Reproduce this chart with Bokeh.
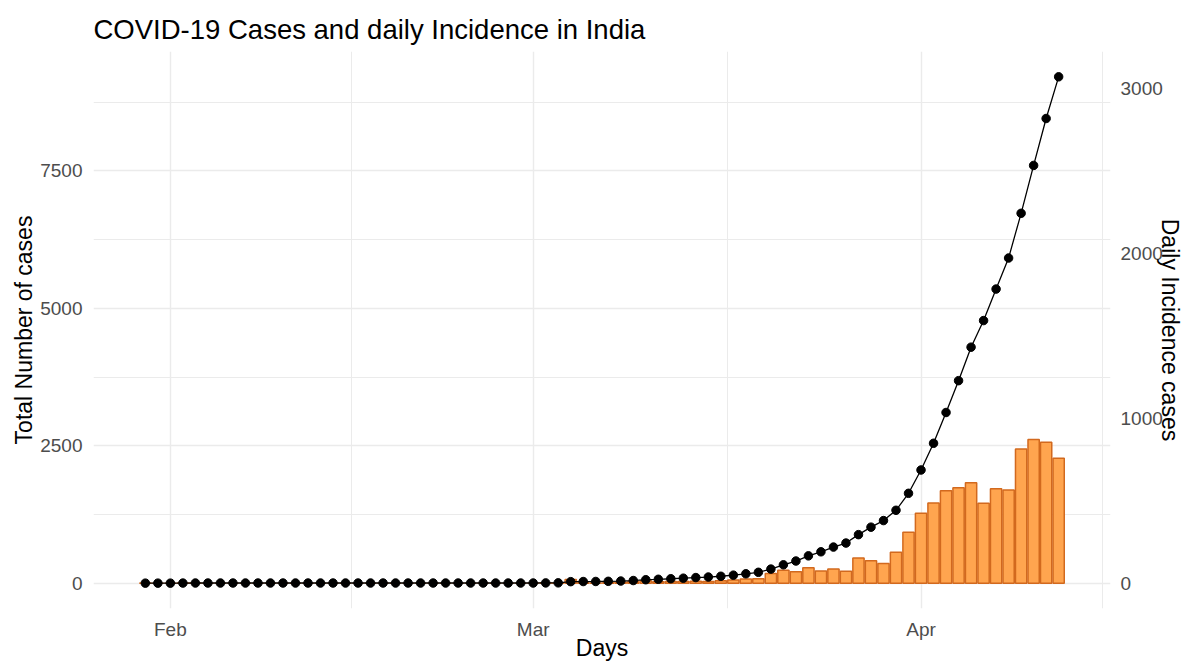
import pandas as pd
from bokeh.plotting import figure
from bokeh.models import Range1d, LinearAxis, FixedTicker, DatetimeTickFormatter
from bokeh.embed import file_html
from bokeh.resources import INLINE

# ---------------- data ----------------
dates = pd.date_range("2020-01-30", "2020-04-12", freq="D")

total_cases = [
    1, 1, 1, 2, 3,
    3, 3, 3, 3, 3, 3, 3, 3, 3, 3, 3, 3, 3, 3, 3, 3, 3, 3, 3, 3, 3, 3, 3, 3, 3, 3, 3,
    5, 6, 28, 30, 31, 34, 39, 48, 63, 71, 81, 91, 102, 112, 126, 146, 171, 198,
    256, 334, 403, 497, 571, 657, 730, 883, 1019, 1139, 1326, 1635,
    2059, 2545, 3105, 3684, 4293, 4777, 5350, 5915, 6728, 7599, 8453, 9211,
]

daily_cases = [
    1, 0, 0, 1, 1,
    0, 0, 0, 0, 0, 0, 0, 0, 0, 0, 0, 0, 0, 0, 0, 0, 0, 0, 0, 0, 0, 0, 0, 0, 0, 0, 0,
    2, 1, 22, 2, 1, 3, 5, 9, 15, 8, 10, 10, 11, 10, 14, 20, 25, 27,
    58, 78, 69, 94, 74, 86, 73, 153, 136, 120, 187, 309,
    424, 486, 560, 579, 609, 484, 573, 565, 813, 871, 854, 758,
]

month_ticks = ["2020-02-01", "2020-03-01", "2020-04-01"]
left_ticks = [0, 2500, 5000, 7500]
right_ticks = [0, 1000, 2000, 3000]
scale_factor = 3  # secondary axis = primary / 3

title_text = "COVID-19 Cases and daily Incidence in India"
x_title = "Days"
y_title = "Total Number of cases"
y2_title = "Daily Incidence cases"

# ---------------- helpers ----------------
DAY = 86400000.0
def ms(d):
    return pd.Timestamp(d).value / 1e6

xs_ms = [ms(d) for d in dates]
bar_w = 0.9
x_lo = xs_ms[0] - bar_w / 2 * DAY
x_hi = xs_ms[-1] + bar_w / 2 * DAY
x_pad = 0.05 * (x_hi - x_lo)

y_hi = max(max(total_cases), max(daily_cases) * scale_factor)
y_pad = 0.05 * y_hi
y_lo_r, y_hi_r = -y_pad, y_hi + y_pad

major_x = [ms(d) for d in month_ticks]
step = major_x[1] - major_x[0]
minor_x = [(a + b) / 2 for a, b in zip(major_x[:-1], major_x[1:])] + [major_x[-1] + step / 2]
left_minor = [t + (left_ticks[1] - left_ticks[0]) / 2 for t in left_ticks]

FONT = "Liberation Sans"

p = figure(
    width=1185, height=664,
    x_axis_type="datetime",
    x_range=Range1d(x_lo - x_pad, x_hi + x_pad),
    y_range=Range1d(y_lo_r, y_hi_r),
    output_backend="svg", toolbar_location=None,
    min_border_left=93, min_border_right=75, min_border_top=51, min_border_bottom=56,
    title=title_text,
)
p.extra_y_ranges = {"daily": Range1d(y_lo_r / scale_factor, y_hi_r / scale_factor)}

p.outline_line_color = None
p.background_fill_color = "white"
p.border_fill_color = "white"

p.title.text_font = FONT
p.title.text_font_size = "27.5px"
p.title.text_font_style = "normal"
p.title.text_color = "black"
p.title.align = "left"
p.title.offset = 0
p.title.standoff = 14

# bars (daily incidence, right axis)
p.vbar(x=dates, top=daily_cases, width=bar_w * DAY, y_range_name="daily",
       fill_color="#FFA54F", line_color="#D2691E", line_width=1.5)

# cumulative cases
p.line(dates, total_cases, line_color="black", line_width=1.3)
p.scatter(dates, total_cases, size=8.5, fill_color="black", line_color="black")

# x axis
xa = p.xaxis[0]
xa.ticker = FixedTicker(ticks=major_x, minor_ticks=minor_x)
xa.formatter = DatetimeTickFormatter(days="%b", months="%b", years="%b")
xa.axis_label = x_title

# left axis
ya = p.yaxis[0]
ya.ticker = FixedTicker(ticks=left_ticks, minor_ticks=left_minor)
ya.axis_label = y_title

# right axis
ra = LinearAxis(y_range_name="daily", ticker=FixedTicker(ticks=right_ticks),
                axis_label=y2_title)
p.add_layout(ra, "right")

for ax in (xa, ya, ra):
    ax.axis_line_color = None
    ax.major_tick_line_color = None
    ax.minor_tick_line_color = None
    ax.major_tick_out = 0
    ax.minor_tick_out = 0
    ax.major_tick_in = 0
    ax.minor_tick_in = 0
    ax.major_label_text_font = FONT
    ax.major_label_text_font_size = "19px"
    ax.major_label_text_color = "#4D4D4D"
    ax.axis_label_text_font = FONT
    ax.axis_label_text_font_size = "23px"
    ax.axis_label_text_font_style = "normal"
    ax.axis_label_text_color = "black"

xa.major_label_standoff = 10
xa.axis_label_standoff = -8
ya.major_label_standoff = 11
ya.axis_label_standoff = 0
ra.major_label_standoff = 10
ra.axis_label_standoff = -9

for g in (p.xgrid[0], p.ygrid[0]):
    g.grid_line_color = "#EBEBEB"
    g.grid_line_width = 1.4
    g.minor_grid_line_color = "#EBEBEB"
    g.minor_grid_line_width = 1.0

open("out.html", "w").write(file_html(p, INLINE))
